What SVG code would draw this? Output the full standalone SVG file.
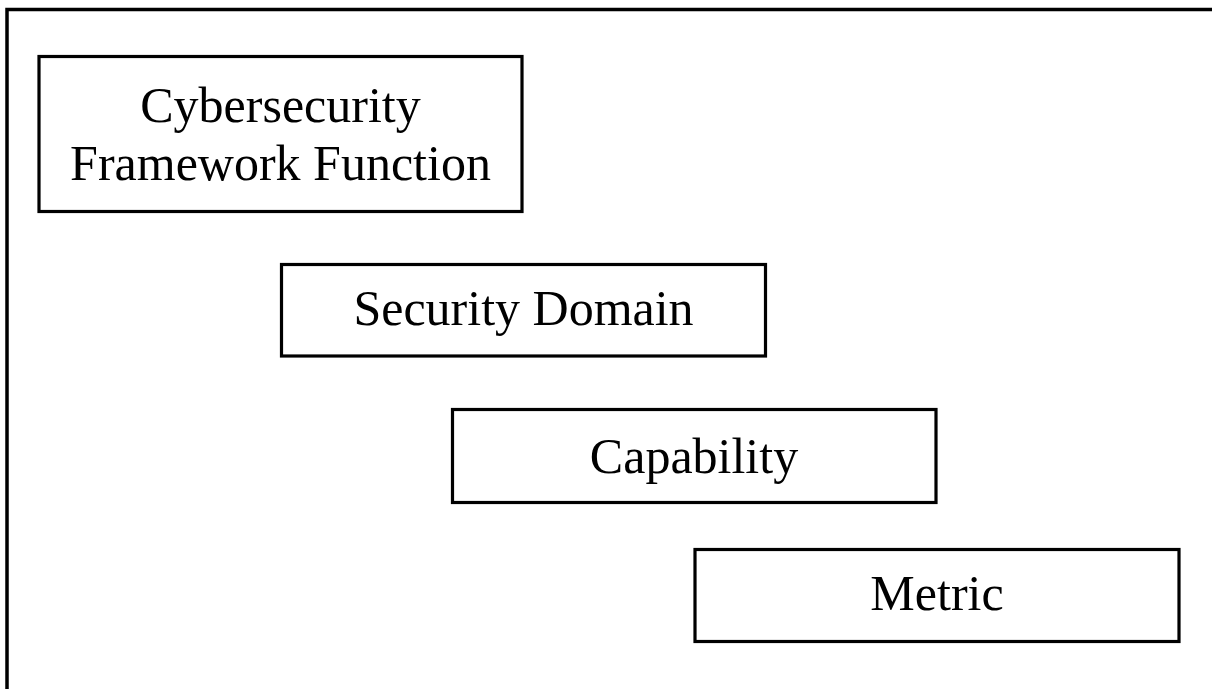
<svg xmlns="http://www.w3.org/2000/svg" width="1212" height="689" viewBox="0 0 1212 689">
<style>
.box{fill:#fff;stroke:#000;stroke-width:3.2}
.lbl{font-family:"Liberation Serif","Times New Roman",serif;font-size:50px;fill:#000;text-anchor:middle}
</style>
<rect x="0" y="0" width="1212" height="689" fill="#fff"/>
<path d="M7 700 V9.5 H1220" fill="none" stroke="#000" stroke-width="3.5"/>
<g id="connectors"></g>
<g id="n1">
<rect class="box" x="39" y="56.5" width="483" height="155"/>
<text class="lbl" x="280.5" y="122">Cybersecurity</text>
<text class="lbl" x="280.5" y="180">Framework Function</text>
</g>
<g id="n2">
<rect class="box" x="281.5" y="264.5" width="484" height="91.5"/>
<text class="lbl" x="523.5" y="325">Security Domain</text>
</g>
<g id="n3">
<rect class="box" x="452.5" y="409.5" width="483.5" height="93"/>
<text class="lbl" x="694" y="473">Capability</text>
</g>
<g id="n4">
<rect class="box" x="695" y="549.5" width="484" height="92"/>
<text class="lbl" x="937" y="610">Metric</text>
</g>
</svg>
